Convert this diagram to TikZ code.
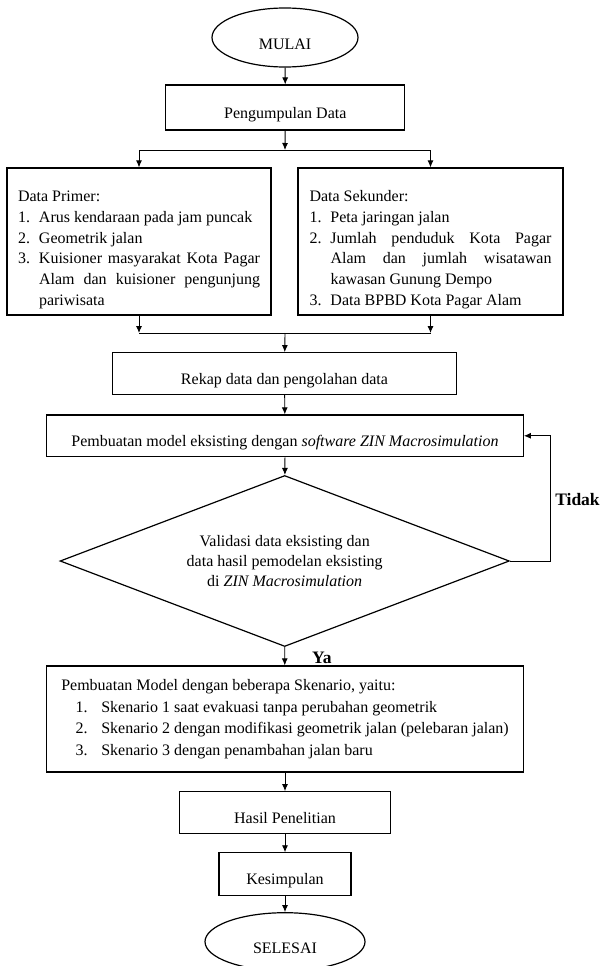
\documentclass[tikz,border=0pt]{standalone}
\usepackage{fontspec}
\setmainfont{Liberation Serif}
\usetikzlibrary{shapes.geometric,arrows.meta}
\newcommand\myitem[3]{\par\noindent\hangindent=#1\hangafter=1\makebox[#1][l]{#2}#3\par}
\begin{document}
\begin{tikzpicture}[x=1pt,y=-1pt,
  every node/.style={font=\fontsize{16}{20.7}\selectfont, inner sep=0pt},
  box/.style={draw, line width=1.2pt, rectangle},
  single/.style={text height=21pt, text depth=0pt},
  term/.style={draw, line width=1.2pt, ellipse, text height=24pt, text depth=0pt},
  listbox/.style={box, minimum height=147pt, text width=242pt, align=justify},
  arr/.style={-{Latex[length=7pt,width=6pt]}, line width=0.9pt},
  ln/.style={line width=0.9pt},
  lbl/.style={font=\fontsize{17.5}{21}\selectfont\bfseries}]
\useasboundingbox (0,0) rectangle (602,966);

\node[term, minimum width=146pt, minimum height=59pt] (mulai) at (285,37.5) {MULAI};
\node[box, single, minimum width=239pt, minimum height=45pt] (peng) at (285.3,107.5) {Pengumpulan Data};

\node[listbox, minimum width=264pt] (prim) at (139,241.5)
{\parindent=0pt\hyphenpenalty=10000\tolerance=10000
\rule{0pt}{27.5pt}Data Primer:\par
\myitem{21pt}{1.}{Arus kendaraan pada jam puncak}
\myitem{21pt}{2.}{Geometrik jalan}
\myitem{21pt}{3.}{Kuisioner masyarakat Kota Pagar\linebreak Alam dan kuisioner pengunjung\linebreak pariwisata}};

\node[listbox, minimum width=265pt] (sek) at (430.5,241.5)
{\parindent=0pt\hyphenpenalty=10000\tolerance=10000
\rule{0pt}{27.5pt}Data Sekunder:\par
\myitem{21pt}{1.}{Peta jaringan jalan}
\myitem{21pt}{2.}{Jumlah penduduk Kota Pagar\linebreak Alam dan jumlah wisatawan\linebreak kawasan Gunung Dempo}
\myitem{21pt}{3.}{Data BPBD Kota Pagar Alam}};

\node[box, single, minimum width=344pt, minimum height=41.6pt] (rekap) at (284.5,373.5) {Rekap data dan pengolahan data};
\node[box, single, minimum width=476.6pt, minimum height=41.7pt] (eks) at (285,435.8)
  {Pembuatan model eksisting dengan \textit{software ZIN Macrosimulation}};

\node[draw, line width=1.2pt, diamond, aspect=2.63, minimum width=449.3pt, minimum height=171pt, align=center,
  font=\fontsize{16}{20.2}\selectfont] (dia) at (284.7,561)
  {Validasi data eksisting dan\\ data hasil pemodelan eksisting\\ di \textit{ZIN Macrosimulation}};

\node[box, minimum width=476.6pt, minimum height=106pt, align=left, font=\fontsize{16}{21.5}\selectfont] (model) at (285,719)
{Pembuatan Model dengan beberapa Skenario, yaitu:\\
\hspace*{14.4pt}\makebox[25.6pt][l]{1.}Skenario 1 saat evakuasi tanpa perubahan geometrik\\
\hspace*{14.4pt}\makebox[25.6pt][l]{2.}Skenario 2 dengan modifikasi geometrik jalan (pelebaran jalan)\\
\hspace*{14.4pt}\makebox[25.6pt][l]{3.}Skenario 3 dengan penambahan jalan baru};

\node[box, single, minimum width=211.4pt, minimum height=41.6pt] (hasil) at (285,812.5) {Hasil Penelitian};
\node[box, single, minimum width=132pt, minimum height=42.3pt] (kes) at (285,874) {Kesimpulan};
\node[term, minimum width=160pt, minimum height=58pt] (selesai) at (285,941.7) {SELESAI};

% connectors
\draw[arr] (mulai) -- (peng);
\coordinate (j1) at (285,150);
\draw[arr] (peng) -- (j1);
\draw[ln] (prim.north |- j1) -- (sek.north |- j1);
\draw[arr] (prim.north |- j1) -- (prim.north);
\draw[arr] (sek.north |- j1) -- (sek.north);

\coordinate (j2) at (285,333);
\draw[arr] (prim.south) -- (prim.south |- j2);
\draw[arr] (sek.south) -- (sek.south |- j2);
\draw[ln] (prim.south |- j2) -- (sek.south |- j2);
\draw[arr] (j2) -- (rekap);

\draw[arr] (rekap) -- (eks);
\draw[arr] (eks) -- (dia);
\coordinate (loop) at (550,561);
\draw[arr] (dia.east) -- (loop) |- (eks.east);
\node[lbl, anchor=base] (tidak) at (577.5,505) {Tidak};

\draw[arr] (dia.south) -- (model);
\node[lbl, anchor=base west] (ya) at (312,663.3) {Ya};

\draw[arr] (model) -- (hasil);
\draw[arr] (hasil) -- (kes);
\draw[arr] (kes) -- (selesai);
\end{tikzpicture}
\end{document}
